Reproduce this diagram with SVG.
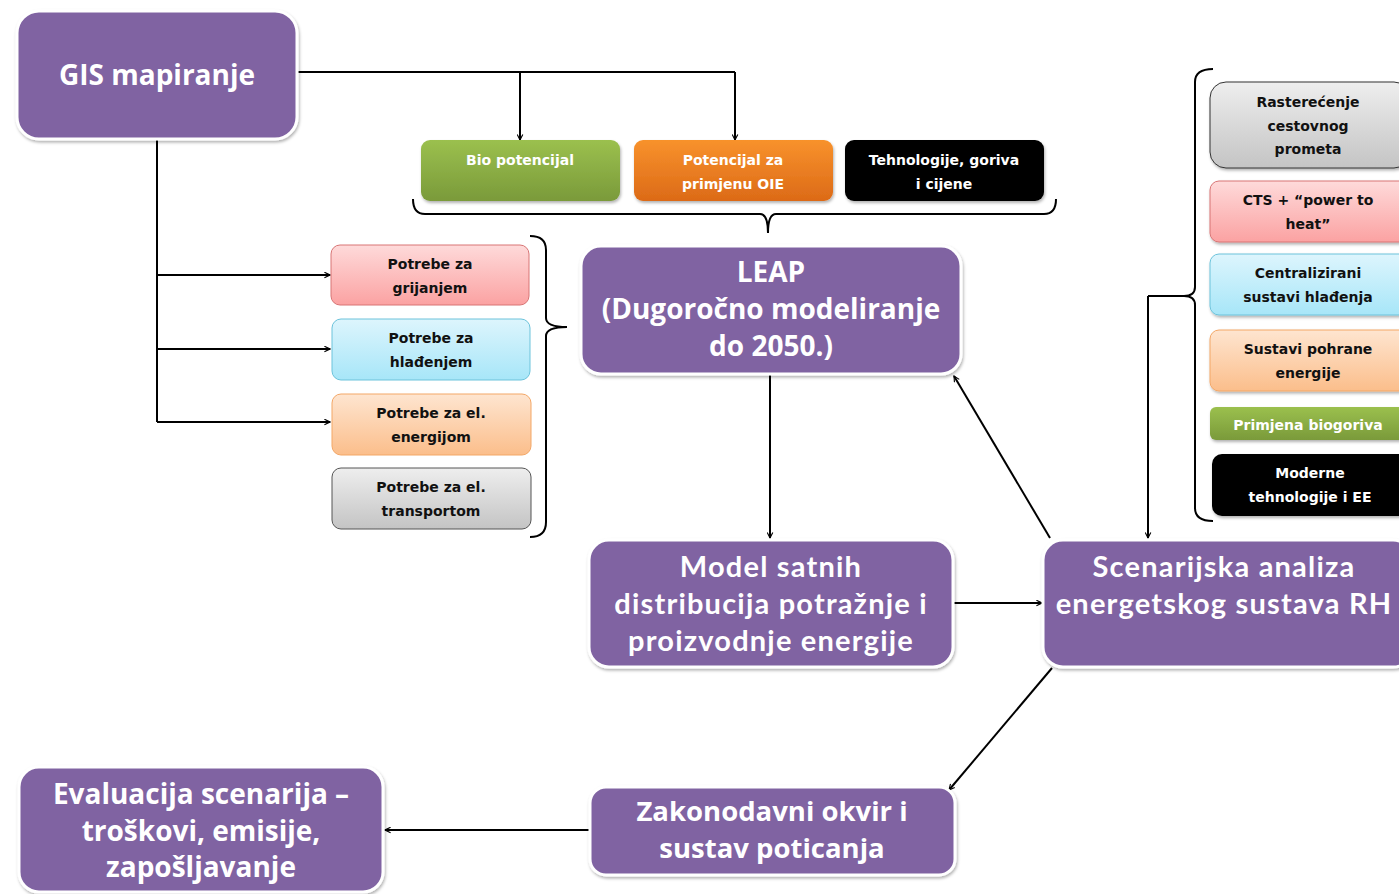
<svg xmlns="http://www.w3.org/2000/svg" width="1399" height="894" viewBox="0 0 1399 894">
<style>
.big{fill:#8064A2;stroke:#ffffff;stroke-width:3;filter:url(#sh)}
.bt{font-family:"Open Sans","DejaVu Sans",sans-serif;font-weight:bold;fill:#ffffff;text-anchor:middle}
.bt2{font-family:Lato,"Liberation Sans",sans-serif;font-weight:bold;fill:#ffffff;text-anchor:middle;letter-spacing:1.2px}
.st{font-family:"DejaVu Sans",Verdana,sans-serif;font-weight:bold;font-size:14px;text-anchor:middle;fill:#111}
.wt{font-family:"DejaVu Sans",Verdana,sans-serif;font-weight:bold;font-size:14px;text-anchor:middle;fill:#fff}
.ln{fill:none;stroke:#000;stroke-width:2}
.ar{fill:none;stroke:#000;stroke-width:2;marker-end:url(#ah)}
.sm{filter:url(#sh)}
</style>
<defs>
<filter id="sh" x="-10%" y="-10%" width="120%" height="130%">
<feDropShadow dx="1" dy="2" stdDeviation="1.5" flood-color="#000" flood-opacity="0.3"/>
</filter>
<marker id="ah" viewBox="0 0 10 10" refX="9" refY="5" markerWidth="7" markerHeight="7" markerUnits="userSpaceOnUse" orient="auto">
<path d="M1,1 L9,5 L1,9" fill="none" stroke="#000" stroke-width="1.6"/>
</marker>
<linearGradient id="gGreen" x1="0" y1="0" x2="0" y2="1"><stop offset="0" stop-color="#9BC04E"/><stop offset="1" stop-color="#7A9A3A"/></linearGradient>
<linearGradient id="gOrange" x1="0" y1="0" x2="0" y2="1"><stop offset="0" stop-color="#F8922C"/><stop offset="1" stop-color="#DC6A17"/></linearGradient>
<linearGradient id="gPink" x1="0" y1="0" x2="0" y2="1"><stop offset="0" stop-color="#FEDADA"/><stop offset="1" stop-color="#FBA2A2"/></linearGradient>
<linearGradient id="gBlue" x1="0" y1="0" x2="0" y2="1"><stop offset="0" stop-color="#DDF5FD"/><stop offset="1" stop-color="#A7E6F8"/></linearGradient>
<linearGradient id="gPeach" x1="0" y1="0" x2="0" y2="1"><stop offset="0" stop-color="#FEE5D0"/><stop offset="1" stop-color="#FBBE8B"/></linearGradient>
<linearGradient id="gGray" x1="0" y1="0" x2="0" y2="1"><stop offset="0" stop-color="#EEEEEE"/><stop offset="1" stop-color="#C4C4C4"/></linearGradient>
</defs>
<rect width="1399" height="894" fill="#ffffff"/>

<g id="connectors">
<path class="ln" d="M297,72 H735"/>
<path class="ar" d="M520,72 V140"/>
<path class="ar" d="M735,72 V140"/>
<path class="ln" d="M157,139 V422"/>
<path class="ar" d="M157,275 H330"/>
<path class="ar" d="M157,349 H330"/>
<path class="ar" d="M157,422 H330"/>
<path class="ln" d="M413,199 Q413,214 425,214 H760 Q768,214 768,233 Q768,214 776,214 H1044 Q1056,214 1056,199"/>
<path class="ln" d="M530,236 Q546,236 546,250 V318 Q546,327 567,327 Q546,327 546,336 V522 Q546,537 530,537"/>
<path class="ln" d="M1213,69 Q1195,69 1195,82 V287 Q1195,296 1184,296 H1148"/>
<path class="ln" d="M1184,296 Q1195,296 1195,305 V508 Q1195,521 1213,521"/>
<path class="ar" d="M1148,296 V538"/>
<path class="ar" d="M770,374 V538"/>
<path class="ar" d="M953,603 H1042"/>
<path class="ar" d="M1050,538 L954,376"/>
<path class="ar" d="M1052,668 L949,790"/>
<path class="ar" d="M590,830 H385"/>
</g>

<g id="gis"><rect class="big" x="17" y="11" width="280" height="128" rx="22"/>
<text class="bt" x="157" y="85" font-size="28">GIS mapiranje</text></g>

<g id="bio"><rect class="sm" x="421" y="140" width="199" height="61" rx="9" fill="url(#gGreen)"/>
<text class="wt" x="520" y="165">Bio potencijal</text></g>
<g id="oie"><rect class="sm" x="634" y="140" width="199" height="61" rx="9" fill="url(#gOrange)"/>
<text class="wt" x="733" y="165">Potencijal za</text><text class="wt" x="733" y="189">primjenu OIE</text></g>
<g id="teh"><rect class="sm" x="845" y="140" width="199" height="61" rx="9" fill="#000"/>
<text class="wt" x="944" y="165">Tehnologije, goriva</text><text class="wt" x="944" y="189">i cijene</text></g>

<g id="grijanje"><rect x="331" y="245" width="198" height="60" rx="9" fill="url(#gPink)" stroke="#D87575" stroke-width="1"/>
<text class="st" x="430" y="269">Potrebe za</text><text class="st" x="430" y="293">grijanjem</text></g>
<g id="hladenje"><rect x="332" y="319" width="198" height="61" rx="9" fill="url(#gBlue)" stroke="#6CC3DB" stroke-width="1"/>
<text class="st" x="431" y="343">Potrebe za</text><text class="st" x="431" y="367">hlađenjem</text></g>
<g id="elenergija"><rect x="332" y="394" width="199" height="61" rx="9" fill="url(#gPeach)" stroke="#F3A767" stroke-width="1"/>
<text class="st" x="431" y="418">Potrebe za el.</text><text class="st" x="431" y="442">energijom</text></g>
<g id="eltransport"><rect x="332" y="468" width="199" height="61" rx="9" fill="url(#gGray)" stroke="#555" stroke-width="1"/>
<text class="st" x="431" y="492">Potrebe za el.</text><text class="st" x="431" y="516">transportom</text></g>

<g id="leap"><rect class="big" x="581" y="246" width="380" height="128" rx="20"/>
<text class="bt" x="771" y="282" font-size="28">LEAP</text>
<text class="bt" x="771" y="319" font-size="28">(Dugoročno modeliranje</text>
<text class="bt" x="771" y="356" font-size="28">do 2050.)</text></g>

<g id="model"><rect class="big" x="589" y="540" width="364" height="127" rx="20"/>
<text class="bt2" x="771" y="577" font-size="29">Model satnih</text>
<text class="bt2" x="771" y="614" font-size="29">distribucija potražnje i</text>
<text class="bt2" x="771" y="651" font-size="29">proizvodnje energije</text></g>

<g id="scenarij"><rect class="big" x="1043" y="540" width="370" height="127" rx="20"/>
<text class="bt2" x="1224" y="577" font-size="29">Scenarijska analiza</text>
<text class="bt2" x="1224" y="614" font-size="29">energetskog sustava RH</text></g>

<g id="zakon"><rect class="big" x="590" y="787" width="365" height="88" rx="16"/>
<text class="bt" x="772" y="821" font-size="27.5">Zakonodavni  okvir i</text>
<text class="bt" x="772" y="858" font-size="27.5">sustav poticanja</text></g>

<g id="evaluacija"><rect class="big" x="19" y="767" width="364" height="125" rx="20"/>
<text class="bt" x="201" y="804" font-size="28">Evaluacija scenarija –</text>
<text class="bt" x="201" y="841" font-size="28">troškovi, emisije,</text>
<text class="bt" x="201" y="877" font-size="28">zapošljavanje</text></g>

<g id="rasterecenje"><rect class="sm" x="1210" y="82" width="200" height="86" rx="16" fill="url(#gGray)" stroke="#333" stroke-width="1"/>
<text class="st" x="1308" y="107">Rasterećenje</text><text class="st" x="1308" y="131">cestovnog</text><text class="st" x="1308" y="154">prometa</text></g>
<g id="cts"><rect class="sm" x="1210" y="181" width="200" height="61" rx="9" fill="url(#gPink)" stroke="#D87575" stroke-width="1"/>
<text class="st" x="1308" y="205">CTS + “power to</text><text class="st" x="1308" y="229">heat”</text></g>
<g id="central"><rect class="sm" x="1210" y="254" width="200" height="61" rx="9" fill="url(#gBlue)" stroke="#6CC3DB" stroke-width="1"/>
<text class="st" x="1308" y="278">Centralizirani</text><text class="st" x="1308" y="302">sustavi hlađenja</text></g>
<g id="pohrana"><rect class="sm" x="1210" y="330" width="200" height="61" rx="9" fill="url(#gPeach)" stroke="#F3A767" stroke-width="1"/>
<text class="st" x="1308" y="354">Sustavi pohrane</text><text class="st" x="1308" y="378">energije</text></g>
<g id="biogoriva"><rect class="sm" x="1210" y="407" width="200" height="33" rx="6" fill="url(#gGreen)"/>
<text class="wt" x="1308" y="430" font-size="15">Primjena biogoriva</text></g>
<g id="moderne"><rect class="sm" x="1212" y="454" width="200" height="62" rx="10" fill="#000"/>
<text class="wt" x="1310" y="478">Moderne</text><text class="wt" x="1310" y="502">tehnologije i EE</text></g>
</svg>
